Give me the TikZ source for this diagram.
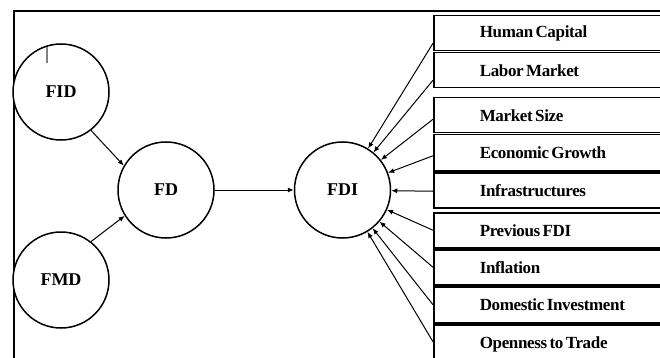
\documentclass[tikz,border=0pt]{standalone}
\usepackage{fontspec}
\setmainfont{Liberation Serif}
\newfontfamily\boxfont{Liberation Serif}[WordSpace=0.6, LetterSpace=-2]
\usetikzlibrary{arrows.meta,positioning,calc}

\begin{document}
\begin{tikzpicture}[x=1pt, y=-1pt,
    var/.style={circle, draw, line width=1.5pt, fill=white, minimum size=96pt, inner sep=0pt,
        font=\fontsize{18}{21}\selectfont\bfseries},
    factor/.style={draw, line width=1.5pt, anchor=north west, text width=170pt, align=flush left,
        inner xsep=46pt, inner ysep=0pt, font=\boxfont\fontsize{17}{19}\selectfont\bfseries},
    arr/.style={-{Latex[length=6pt,width=5pt]}, line width=1pt}]
    \useasboundingbox (0,0) rectangle (660,358);

    % Outer frame
    \draw[line width=2pt] (14,360) -- (14,11) -- (662,11);

    % Financial development
    \node[var] (fid) at (61,92) {FID};
    \node[var] (fmd) at (61,280) {FMD};
    \node[var] (fd) at (166,190) {FD};
    \node[var] (fdi) at (342.5,190) {FDI};
    \draw[gray, line width=1.2pt] (47,47) -- (47,63);

    \draw[arr] (fid.-52) -- (fd.150);
    \draw[arr] (fmd.52) -- (fd.212);
    \draw[arr] (fd) -- (fdi);

    % Determinants of FDI
    \foreach \name/\y/\bh/\txt in {hc/15/35pt/Human Capital, lm/52/35pt/Labor Market,
        ms/97/35pt/Market Size, eg/134/36pt/Economic Growth, inf/172/35pt/Infrastructures,
        pf/212/35pt/Previous FDI, il/249/35pt/Inflation, di/286/36pt/Domestic Investment,
        ot/324/40pt/Openness to Trade} {
        \node[factor, minimum height=\bh] (\name) at (433,\y) {\txt};
    }
    \foreach \name/\dy in {hc/-10, lm/-10, ms/-4, eg/-3, inf/-1, pf/0, il/0, di/0, ot/3} {
        \draw[arr] ([yshift=\dy pt]\name.west) -- (fdi);
    }
\end{tikzpicture}
\end{document}
